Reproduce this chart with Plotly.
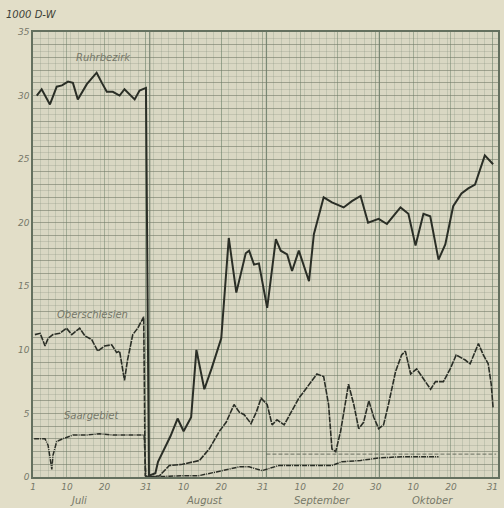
import plotly.graph_objects as go

# Day offsets counted from 1 July (0 = 1 July, 122 = 31 October)
ruhr_days = [1.0, 2.3, 4.5, 6.3, 7.7, 9.3, 10.6, 11.9, 14.3, 16.9, 18.3, 19.6, 21.2, 23.0,
             24.3, 26.2, 27.0, 28.3, 30.0, 30.8, 32.5, 33.2, 36.5, 38.4, 40.0, 42.0, 43.4,
             45.5, 47.4, 50.0, 52.0, 54.0, 56.5, 57.4, 58.7, 60.0, 62.2, 64.5, 65.8, 67.5,
             68.8, 70.6, 73.3, 74.6, 77.2, 79.4, 82.5, 84.7, 87.0, 89.0, 91.8, 94.0, 97.6,
             99.7, 101.6, 103.7, 105.5, 107.7, 109.5, 111.6, 113.8, 115.6, 117.4, 120.0, 122.2]
ruhr_vals = [30.0, 30.5, 29.3, 30.7, 30.8, 31.1, 31.0, 29.7, 30.9, 31.8, 31.0, 30.3, 30.3, 30.0,
             30.5, 29.9, 29.7, 30.4, 30.6, 0.1, 0.3, 1.2, 3.2, 4.6, 3.6, 4.7, 10.0,
             6.9, 8.5, 10.9, 18.8, 14.5, 17.6, 17.8, 16.7, 16.8, 13.3, 18.7, 17.8, 17.5,
             16.2, 17.8, 15.4, 19.1, 22.0, 21.6, 21.2, 21.7, 22.1, 20.0, 20.3, 19.9, 21.2,
             20.7, 18.2, 20.7, 20.5, 17.1, 18.3, 21.3, 22.3, 22.7, 23.0, 25.3, 24.6]

ober_days = [0.5, 1.9, 3.2, 4.0, 5.3, 7.1, 8.9, 10.3, 11.1, 12.4, 13.8, 15.6, 17.2, 19.0,
             20.9, 22.2, 23.0, 24.3, 25.1, 26.5, 27.8, 28.8, 29.4, 29.8, 31.0, 33.6, 36.2,
             39.7, 44.2, 46.8, 49.5, 51.3, 53.4, 54.8, 56.1, 57.9, 59.3, 60.6, 62.2, 63.5,
             64.8, 66.7, 68.5, 70.6, 71.4, 75.4, 77.2, 78.5, 79.4, 80.4, 81.7, 83.8, 85.2,
             86.5, 87.8, 89.2, 90.5, 91.8, 93.1, 94.4, 96.3, 97.9, 98.9, 100.3, 101.9, 103.7,
             105.6, 106.9, 109.0, 110.8, 112.4, 114.8, 116.1, 118.3, 119.6, 120.9, 121.7, 122.2]
ober_vals = [11.2, 11.3, 10.3, 10.9, 11.2, 11.3, 11.7, 11.2, 11.4, 11.7, 11.1, 10.8, 9.9, 10.3,
             10.4, 9.8, 9.9, 7.6, 9.2, 11.2, 11.7, 12.2, 12.6, 0.1, 0.0, 0.1, 0.9,
             1.0, 1.3, 2.2, 3.6, 4.3, 5.7, 5.1, 4.9, 4.2, 5.1, 6.2, 5.7, 4.1,
             4.5, 4.1, 5.1, 6.2, 6.5, 8.1, 7.9, 5.7, 2.2, 2.0, 3.6, 7.3, 5.7,
             3.8, 4.3, 6.0, 4.7, 3.8, 4.1, 5.7, 8.3, 9.6, 9.9, 8.1, 8.5, 7.7,
             6.9, 7.5, 7.5, 8.5, 9.6, 9.2, 8.9, 10.5, 9.6, 8.9, 7.3, 5.4]

saar_days = [0.3, 3.2, 4.0, 5.0, 5.3, 6.3, 7.9, 10.6, 14.3, 17.7, 21.2, 24.9, 29.5, 30.0,
             31.0, 39.7, 44.0, 48.7, 52.0, 54.8, 57.4, 60.8, 65.3, 70.6, 79.4, 82.0, 87.0,
             92.0, 98.0, 104.0, 107.7]
saar_vals = [3.0, 3.0, 2.5, 0.6, 1.7, 2.8, 3.0, 3.3, 3.3, 3.4, 3.3, 3.3, 3.3, 0.0,
             0.0, 0.1, 0.1, 0.4, 0.6, 0.8, 0.8, 0.5, 0.9, 0.9, 0.9, 1.2, 1.3,
             1.5, 1.6, 1.6, 1.6]

ref_days = [62.0, 123.0]
ref_vals = [1.8, 1.8]

x_tick_days = [0, 9, 19, 30, 40, 50, 61, 71, 81, 91, 101, 111, 122]
x_tick_labels = ["1", "10", "20", "31", "10", "20", "31", "10", "20", "30", "10", "20", "31"]
month_names = ["Juli", "August", "September", "Oktober"]
month_starts = [31, 62, 92]
y_label_values = list(range(0, 36))
y_tick_labels = [str(v) if v % 5 == 0 else "" for v in y_label_values]

series_names = ["Ruhrbezirk", "Oberschlesien", "Saargebiet"]
unit_label = "1000 D-W"

ink = "rgb(42,46,38)"
faded = "rgb(118,120,105)"
font_fam = "DejaVu Sans"
paper_col = "rgb(226,222,200)"

fig = go.Figure()
fig.add_trace(go.Scatter(x=ref_days, y=ref_vals, mode="lines",
                         line=dict(color="rgba(70,78,64,0.75)", width=1, dash="4px,2px")))
fig.add_trace(go.Scatter(x=saar_days, y=saar_vals, mode="lines", name=series_names[2],
                         line=dict(color=ink, width=1.5, dash="5px,1px,1px,1px")))
fig.add_trace(go.Scatter(x=ober_days, y=ober_vals, mode="lines", name=series_names[1],
                         line=dict(color=ink, width=1.6, dash="6px,1px")))
fig.add_trace(go.Scatter(x=ruhr_days, y=ruhr_vals, mode="lines", name=series_names[0],
                         line=dict(color=ink, width=2)))

for d in month_starts:
    fig.add_vline(x=d, line=dict(color="rgba(90,110,90,0.75)", width=1.2), layer="below")

label_pos = [(18.8, 33.0), (15.9, 12.8), (15.6, 4.8)]
for name, (lx, ly) in zip(series_names, label_pos):
    fig.add_annotation(x=lx, y=ly, text=name, showarrow=False,
                       font=dict(family=font_fam, size=10, color=faded, style="italic"))

month_pos = [12, 45.5, 76.7, 106]
for name, mx in zip(month_names, month_pos):
    fig.add_annotation(x=mx, y=-0.052, xref="x", yref="paper", text=name, showarrow=False,
                       yanchor="middle",
                       font=dict(family=font_fam, size=10, color=faded, style="italic"))

fig.add_annotation(x=-0.062, y=1.04, xref="paper", yref="paper", text=unit_label,
                   showarrow=False, xanchor="left", yanchor="middle",
                   font=dict(family=font_fam, size=10, color="rgb(60,62,55)", style="italic"))

fig.update_layout(
    width=504, height=508,
    margin=dict(l=33, r=4, t=32, b=31),
    paper_bgcolor=paper_col,
    plot_bgcolor="rgb(217,215,195)",
    showlegend=False,
    font=dict(family=font_fam, size=10, color=faded, style="italic"),
)
fig.update_xaxes(
    range=[0, 123.5], tickvals=x_tick_days, ticktext=x_tick_labels,
    showgrid=True, gridcolor="rgba(110,130,105,0.5)", gridwidth=1,
    minor=dict(dtick=2, tick0=0, showgrid=True, gridcolor="rgba(125,140,120,0.25)", gridwidth=1),
    showline=True, linecolor="rgb(100,112,95)", linewidth=1.5, mirror=True,
    zeroline=False, ticks="", tickfont=dict(size=9, color=faded, style="italic"),
)
fig.update_yaxes(
    range=[0, 35], tickvals=y_label_values, ticktext=y_tick_labels,
    showgrid=True, gridcolor="rgba(110,118,100,0.45)", gridwidth=1,
    minor=dict(dtick=0.5, tick0=0, showgrid=True, gridcolor="rgba(130,135,118,0.25)", gridwidth=1),
    showline=True, linecolor="rgb(100,112,95)", linewidth=1.5, mirror=True,
    zeroline=False, ticks="", tickfont=dict(size=9, color=faded, style="italic"),
)

fig.write_html(
    "out.html",
    config={"displayModeBar": False},
    post_script="document.body.style.margin='0';document.body.style.overflow='hidden';"
                "document.body.style.background='" + paper_col + "';",
)
